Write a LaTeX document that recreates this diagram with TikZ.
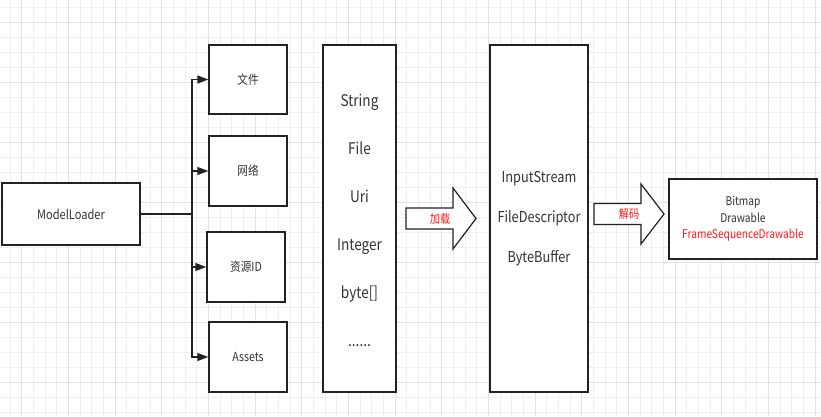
\documentclass[tikz,border=0pt]{standalone}
\usepackage{fontspec}
\setmainfont{Noto Sans CJK SC}[FakeStretch=0.85]
\usetikzlibrary{arrows.meta}
\definecolor{ink}{HTML}{222222}
\definecolor{txt}{HTML}{333333}
\definecolor{redtxt}{HTML}{FF1A1A}
\definecolor{gridminor}{HTML}{EFEFEF}
\definecolor{gridmajor}{HTML}{E2E2E2}
\begin{document}
\begin{tikzpicture}[x=1pt,y=-1pt,
  box/.style={draw=ink, line width=1.4pt, fill=white, inner sep=0pt, text=txt, align=center},
  conn/.style={draw=ink, line width=1.4pt, -{Triangle[length=11pt,width=8pt]}},
  blockarrow/.style={draw=ink, line width=1.2pt, fill=white, line join=miter},
  lbl/.style={text=redtxt, inner sep=0pt, font=\fontsize{12}{14}\selectfont},
]
\useasboundingbox (0,0) rectangle (821,416);
\fill[white] (0,0) rectangle (821,416);
% grid
\foreach \i in {0,...,69} { \draw[gridminor, line width=0.8pt] ({10+11.667*\i},0) -- ++(0,416); }
\foreach \j in {0,...,27} { \draw[gridminor, line width=0.8pt] (0,{7.7+15*\j}) -- ++(821,0); }
\foreach \i in {0,...,17} { \draw[gridmajor, line width=0.9pt] ({21.7+46.667*\i},0) -- ++(0,416); }
\foreach \j in {0,...,6} { \draw[gridmajor, line width=0.9pt] (0,{22.7+60*\j}) -- ++(821,0); }

% nodes
\node[box, minimum width=138pt, minimum height=62pt, font=\fontsize{13}{15}\selectfont] (ml) at (71,214) {ModelLoader};
\node[box, minimum width=78pt, minimum height=69pt, font=\fontsize{12.5}{15}\selectfont] (wj) at (248,79.5) {文件};
\node[box, minimum width=78pt, minimum height=70pt, font=\fontsize{12.5}{15}\selectfont] (wl) at (248,171) {网络};
\node[box, minimum width=78pt, minimum height=70pt, font=\fontsize{12.5}{15}\selectfont] (zy) at (246,267) {资源ID};
\node[box, minimum width=78pt, minimum height=70pt, font=\fontsize{12.5}{15}\selectfont] (as) at (248,357) {Assets};
\node[box, minimum width=73pt, minimum height=347pt] (src) at (359.5,218.5) {};
\node[text=txt, align=center, inner sep=0pt, font=\fontsize{16}{48}\selectfont] (srctext) at (359.5,220.5)
  {String\\File\\Uri\\Integer\\byte[]\\......};
\node[box, minimum width=98pt, minimum height=347pt, font=\fontsize{15}{40}\selectfont] (mid) at (539,218.5)
  {InputStream\\FileDescriptor\\ByteBuffer};
\node[box, minimum width=148pt, minimum height=80pt, font=\fontsize{12}{16.5}\selectfont] (res) at (743,219)
  {Bitmap\\Drawable\\\textcolor{redtxt}{FrameSequenceDrawable}};

% connectors
\coordinate (j) at (192,214);
\draw[draw=ink, line width=1.4pt] (ml.east) -- (j);
\draw[conn] (j) |- (wj.west);
\draw[conn] (j) |- (wl.west);
\draw[conn] (j) |- (zy.west);
\draw[conn] (j) |- (as.west);

% block arrows
\draw[blockarrow] (406,208) -- (453,208) -- (453,188) -- (476,218.5) -- (453,249) -- (453,229) -- (406,229) -- cycle;
\node[lbl] (load) at (440,219) {加载};
\draw[blockarrow] (594,203.5) -- (641,203.5) -- (641,184) -- (664,214) -- (641,244) -- (641,224.5) -- (594,224.5) -- cycle;
\node[lbl] (decode) at (629,214) {解码};
\end{tikzpicture}
\end{document}
